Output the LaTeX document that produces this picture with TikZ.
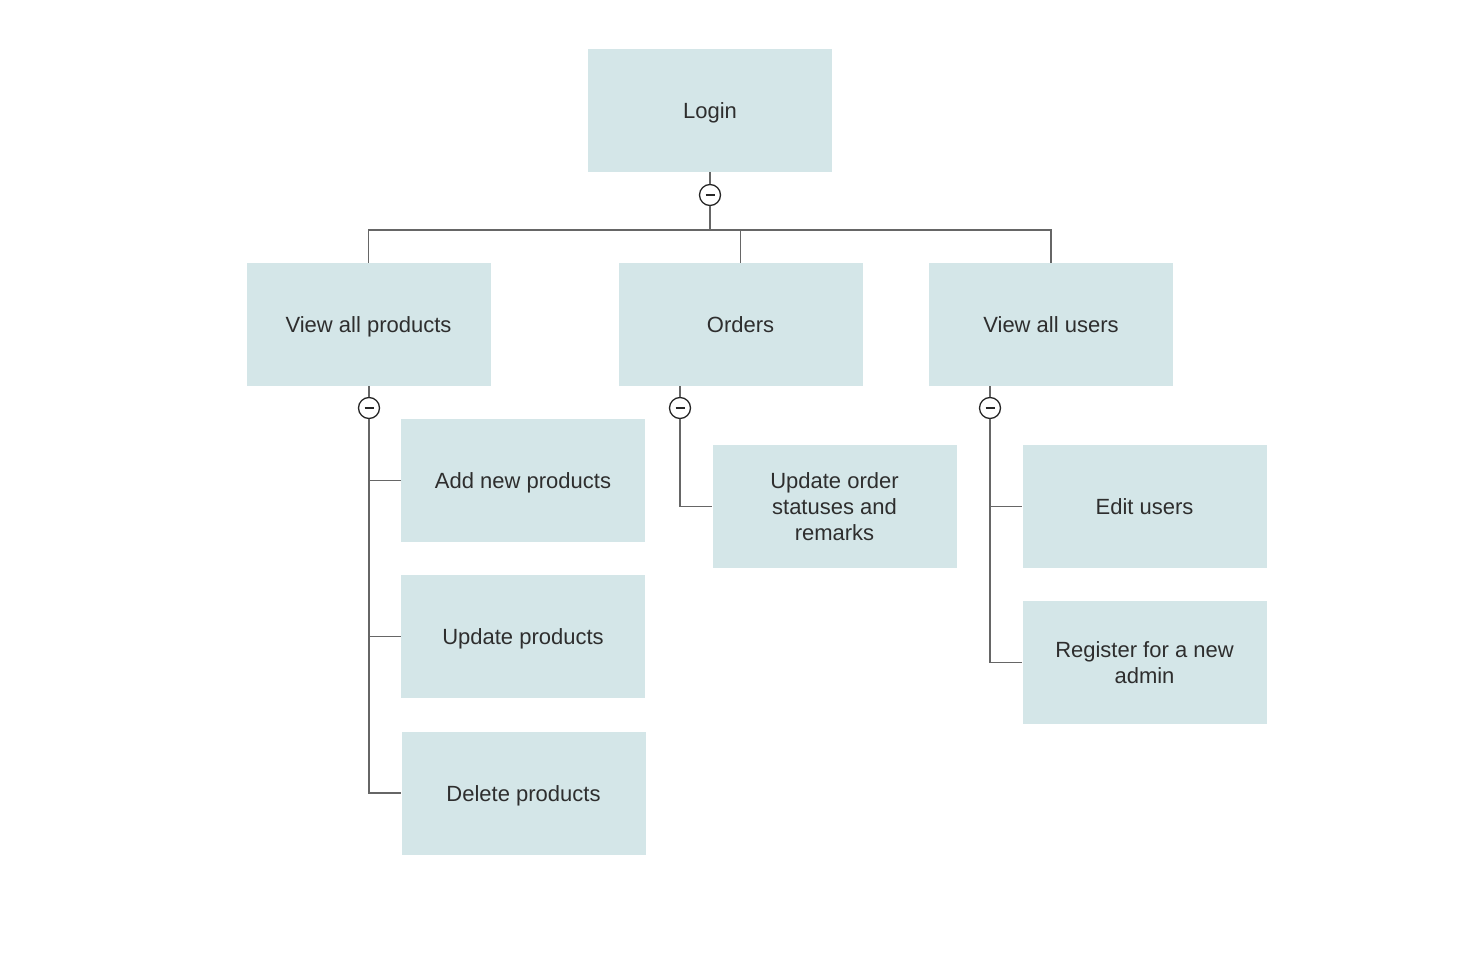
\documentclass[tikz,border=0pt]{standalone}
\usepackage{fontspec}
\setmainfont{Liberation Sans}
\begin{document}
\begin{tikzpicture}[x=1pt,y=-1pt,
  box/.style={fill=boxfill, draw=none, minimum width=244pt, minimum height=123pt, inner sep=0pt, text=textcol, font=\fontsize{22}{26}\selectfont, align=center},
  one/.style={text height=16.5pt, text depth=0pt},
  conn/.style={draw=linecol, line width=1.5pt},
  tog/.style={circle, draw=black!85, line width=1.3pt, fill=white, minimum size=21pt, inner sep=0pt}]
\definecolor{boxfill}{HTML}{D4E6E8}
\definecolor{textcol}{HTML}{2E2E2E}
\definecolor{linecol}{HTML}{666666}
\useasboundingbox (0,0) rectangle (1478,974);
% boxes
\node[box,one] (login) at (710,110.5) {Login};
\node[box,one] (vap) at (368.5,324.5) {View all products};
\node[box,one] (ord) at (740.5,324.5) {Orders};
\node[box,one] (vau) at (1051,324.5) {View all users};
\node[box,one] (add) at (523,480.5) {Add new products};
\node[box,one] (upd) at (523,636.5) {Update products};
\node[box,one] (del) at (523.5,793) {Delete products};
\node[box] (uos) at (834.5,506.5) {Update order\\statuses and\\remarks};
\node[box,one] (edit) at (1144.5,506.5) {Edit users};
\node[box] (reg) at (1144.5,662.5) {Register for a new\\admin};
% toggles
\node[tog] (t0) at (710,195) {};
\node[tog] (t1) at (369,408) {};
\node[tog] (t2) at (680,408) {};
\node[tog] (t3) at (990,408) {};
\foreach \t in {t0,t1,t2,t3}{
  \draw[line width=1.6pt, black!85] ([xshift=-4.5pt]\t.center) -- ([xshift=4.5pt]\t.center);
}
\coordinate (bus) at (710,230);
% login connectors
\draw[conn] (login.south) -- (t0.north);
\draw[conn] (t0.south) -- (bus);
\draw[conn] (vap.north) |- (bus) -| (vau.north);
\draw[conn] (ord.north) -- (ord.north |- bus);
% view all products
\draw[conn] (t1.north) -- (t1.north |- vap.south);
\draw[conn] (t1.south) |- (del.west);
\draw[conn] (t1.south |- add.west) -- (add.west);
\draw[conn] (t1.south |- upd.west) -- (upd.west);
% orders
\draw[conn] (t2.north) -- (t2.north |- ord.south);
\draw[conn] (t2.south) |- (uos.west);
% users
\draw[conn] (t3.north) -- (t3.north |- vau.south);
\draw[conn] (t3.south) |- (reg.west);
\draw[conn] (t3.south |- edit.west) -- (edit.west);
\end{tikzpicture}
\end{document}
